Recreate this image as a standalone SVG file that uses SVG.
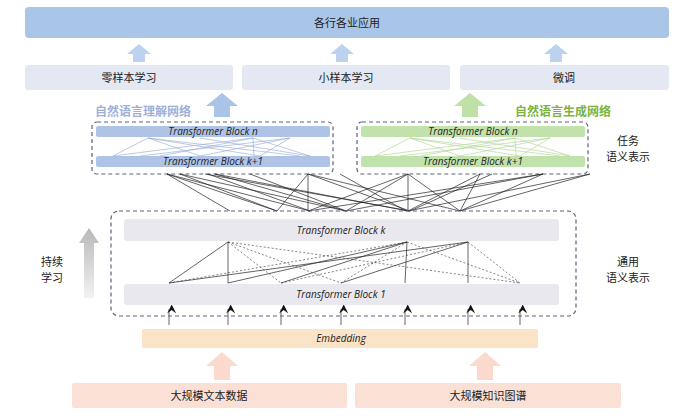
<svg xmlns="http://www.w3.org/2000/svg" width="684" height="418" viewBox="0 0 684 418">
<style>
text{font-family:"Noto Sans CJK SC","Noto Sans",sans-serif;font-size:11px;fill:#222;text-anchor:middle}
.it{font-family:"Open Sans","Noto Sans",sans-serif;font-style:italic;font-size:10px}
.dash{fill:none;stroke:#5a6478;stroke-width:1.2;stroke-dasharray:4 3}
.l{stroke:#222;stroke-width:0.7;fill:none}
.d{stroke:#333;stroke-width:0.6;stroke-dasharray:2 2;fill:none}
.lb{stroke:#9fb3d8;stroke-width:0.7}
.lg{stroke:#b5d89a;stroke-width:0.7}
</style>
<defs>
<marker id="ah" viewBox="0 0 10 10" refX="5" refY="2" markerUnits="userSpaceOnUse" markerWidth="9" markerHeight="9" orient="auto-start-reverse"><path d="M0,10 L5,0 L10,10 L5,6 Z" fill="#111" transform="rotate(90 5 5)"/></marker>
<linearGradient id="gg" x1="0" y1="1" x2="0" y2="0"><stop offset="0" stop-color="#f2f2f2"/><stop offset="1" stop-color="#b8b8b8"/></linearGradient>
</defs>
<rect width="684" height="418" fill="#fff"/>
<g id="top"><rect x="25" y="7" width="644" height="31" rx="4" fill="#a9c6e8"/><text x="347" y="27">各行各业应用</text></g>
<g id="arrowsTop" fill="#bcd2ee">
<path d="M133,62 V54 H127 L139,44 L151,54 H145 V62Z"/>
<path d="M336,62 V54 H330 L342,44 L354,54 H348 V62Z"/>
<path d="M550,62 V54 H544 L556,44 L568,54 H562 V62Z"/>
</g>
<g id="zero"><rect x="25" y="65" width="208" height="25" rx="3" fill="#e3e8f2"/><text x="129" y="82">零样本学习</text></g>
<g id="few"><rect x="242" y="65" width="208" height="25" rx="3" fill="#e3e8f2"/><text x="346" y="82">小样本学习</text></g>
<g id="ft"><rect x="460" y="65" width="209" height="25" rx="3" fill="#e3e8f2"/><text x="564" y="82">微调</text></g>
<path d="M214,117 V106 H206 L222,93 L238,106 H230 V117Z" fill="#a9c4e6"/>
<path d="M462,117 V106 H454 L470,93 L486,106 H478 V117Z" fill="#bfe0a6"/>
<text x="143" y="116" style="fill:#9fb0d8;font-weight:bold;font-size:12px">自然语言理解网络</text>
<text x="563" y="116" style="fill:#7cb342;font-weight:bold;font-size:12px">自然语言生成网络</text>
<g id="nlu">
<rect class="dash" x="92" y="122" width="241" height="52" rx="5"/>
<rect x="96" y="126" width="234" height="11" rx="2" fill="#aec3e6"/>
<rect x="96" y="156" width="234" height="11" rx="2" fill="#aec3e6"/>
<g class="lb"><path d="M148,138 L113,156 M148,138 L200,156 M148,138 L260,156 M148,138 L300,156 M253,138 L113,156 M253,138 L160,156 M253,138 L254,156 M253,138 L310,156 M290,138 L200,156 M290,138 L260,156 M290,138 L140,156 M200,138 L310,156"/></g>
<text class="it" x="213" y="135">Transformer Block n</text>
<text class="it" x="213" y="165">Transformer Block k+1</text>
</g>
<g id="nlg">
<rect class="dash" x="357" y="122" width="231" height="52" rx="5"/>
<rect x="361" y="126" width="224" height="11" rx="2" fill="#c2e2ab"/>
<rect x="361" y="156" width="224" height="11" rx="2" fill="#c2e2ab"/>
<g class="lg"><path d="M410,138 L375,156 M410,138 L460,156 M410,138 L520,156 M410,138 L560,156 M515,138 L375,156 M515,138 L420,156 M515,138 L516,156 M515,138 L570,156 M550,138 L460,156 M550,138 L520,156 M550,138 L400,156 M460,138 L570,156"/></g>
<text class="it" x="473" y="135">Transformer Block n</text>
<text class="it" x="473" y="165">Transformer Block k+1</text>
</g>
<text x="628" y="145">任务</text><text x="628" y="161">语义表示</text>
<g id="connectors">
<path class="l" d="M167,174 L230,211 M167,174 L277,211 M167,174 L310,211 M180,174 L277,211 M180,174 L346,211 M205,174 L410,211 M208,174 L310,211 M215,174 L346,211 M215,174 L408,211 M308,174 L277,211 M308,174 L308,211 M308,174 L410,211 M308,174 L460,211 M250,174 L346,211 M408,174 L346,211 M408,174 L408,211 M408,174 L460,211 M408,174 L308,211 M480,174 L408,211 M480,174 L460,211 M492,174 L410,211 M543,174 L308,211 M543,174 L346,211 M543,174 L460,211 M590,174 L408,211 M590,174 L460,211 M340,174 L406,211"/>
<path class="l" d="M169,283 L228,242 M228,242 L228,283 M169,283 L468,242 M281,283 L407,242 M341,283 L468,242 M405,283 L407,242 M468,283 L468,242 M228,283 L407,242"/>
<path class="d" d="M228,242 L281,283 M228,242 L341,283 M228,242 L520,283 M407,242 L520,283 M468,242 L520,283 M169,283 L407,242 M281,283 L468,242 M407,242 L341,283"/>
<g class="l" marker-end="url(#ah)">
<path d="M169,325 V309"/><path d="M228,325 V309"/><path d="M281,325 V309"/><path d="M341,325 V309"/><path d="M405,325 V309"/><path d="M468,325 V309"/><path d="M520,325 V309"/>
</g>
</g>
<g id="general">
<rect class="dash" x="111" y="211" width="465" height="105" rx="8"/>
<rect x="124" y="219" width="435" height="22" rx="3" fill="#e9e8ee"/>
<rect x="124" y="284" width="435" height="21" rx="3" fill="#e9e8ee"/>
<text class="it" x="341" y="234">Transformer Block k</text>
<text class="it" x="341" y="298">Transformer Block 1</text>
</g>
<text x="628" y="266">通用</text><text x="628" y="282">语义表示</text>
<g id="learn">
<path d="M84,298 V243 H79 L89,228 L99,243 H94 V298Z" fill="url(#gg)"/>
<text x="52" y="266">持续</text><text x="52" y="282">学习</text>
</g>
<g id="emb"><rect x="142" y="329" width="396" height="19" rx="2" fill="#fbe3c8"/><text class="it" x="341" y="342">Embedding</text></g>
<path d="M214,380 V366 H206 L222,352 L238,366 H230 V380Z" fill="#fbd9cc"/>
<path d="M477,380 V366 H469 L485,352 L501,366 H493 V380Z" fill="#fbd9cc"/>
<g id="d1"><rect x="72" y="383" width="275" height="25" rx="2" fill="#fbe0d6"/><text x="209" y="400">大规模文本数据</text></g>
<g id="d2"><rect x="355" y="383" width="266" height="25" rx="2" fill="#fbe0d6"/><text x="488" y="400">大规模知识图谱</text></g>
</svg>
